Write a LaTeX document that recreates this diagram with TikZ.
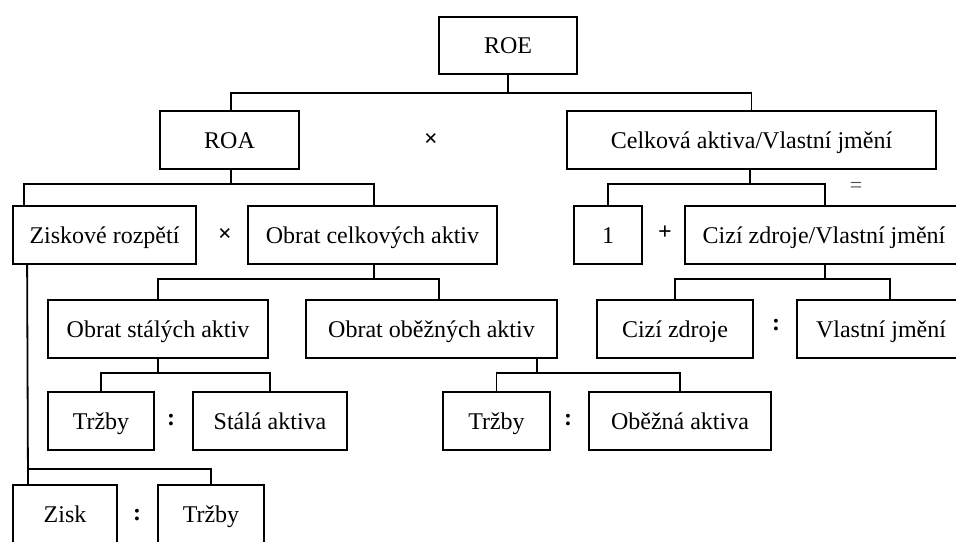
\documentclass[tikz,border=0pt]{standalone}
\usepackage{fontspec}
\setmainfont{Liberation Serif}
\begin{document}
\begin{tikzpicture}[x=1pt,y=-1pt,
  box/.style={draw,line width=1.8pt,minimum height=58pt,inner sep=0pt,text height=20pt,text depth=4pt,font=\fontsize{24}{28}\selectfont},
  sym/.style={font=\fontsize{24}{28}\selectfont\bfseries,inner sep=0pt},
  conn/.style={line width=1.8pt}]
\useasboundingbox (0,0) rectangle (956,541);
\clip (0,0) rectangle (956,541);
% boxes
\node[box,minimum width=138pt,minimum height=57pt] (roe) at (508,45.5) {ROE};
\node[box,minimum width=139pt] (roa) at (229.5,140) {ROA};
\node[box,minimum width=369pt] (celk) at (751.5,140) {Celková aktiva/Vlastní jmění};
\node[box,minimum width=183pt] (zr) at (104.5,235) {Ziskové rozpětí};
\node[box,minimum width=249pt] (oca) at (372.5,235) {Obrat celkových aktiv};
\node[box,minimum width=68pt] (one) at (608,235) {1};
\node[box,minimum width=278pt] (czvj) at (824,235) {Cizí zdroje/Vlastní jmění};
\node[box,minimum width=220pt] (osa) at (158,329) {Obrat stálých aktiv};
\node[box,minimum width=251pt] (ooa) at (431.5,329) {Obrat oběžných aktiv};
\node[box,minimum width=156pt] (cz) at (675,329) {Cizí zdroje};
\node[box,minimum width=168pt] (vj) at (881,329) {Vlastní jmění};
\node[box,minimum width=106pt] (tr1) at (101,421) {Tržby};
\node[box,minimum width=154pt] (sa) at (270,421) {Stálá aktiva};
\node[box,minimum width=107pt] (tr2) at (496.5,421) {Tržby};
\node[box,minimum width=182pt] (oa) at (680,421) {Oběžná aktiva};
\node[box,minimum width=104pt] (zisk) at (65,514) {Zisk};
\node[box,minimum width=106pt] (tr3) at (211,514) {Tržby};
% operators
\node[sym] (x1) at (431,140) {×};
\node[sym] (x2) at (225,235) {×};
\node[sym,font=\fontsize{22}{26}\selectfont,text=black!70] (eq) at (856,187) {=};
\node[sym] (pl) at (665,233) {+};
\node[sym] (c1) at (776,325) {:};
\node[sym] (c2) at (568,420) {:};
\node[sym] (c3) at (171,420) {:};
\node[sym] (c4) at (137,515) {:};
% bus coordinates
\coordinate (b1) at (0,93);
\coordinate (b2) at (0,184);
\coordinate (b3) at (0,279);
\coordinate (b4) at (0,373);
\coordinate (b5) at (0,469);
% connectors
\draw[conn] (roe.south) -- (roe.south |- b1);
\draw[conn] ([xshift=1.5pt]roa.north) |- (b1 -| celk.north) -- (celk.north);
\draw[conn] ([xshift=1.5pt]roa.south) -- ([xshift=1.5pt]roa.south |- b2);
\draw[conn] ([xshift=12pt]zr.north west) |- ([xshift=1.5pt]b2 -| oca.north) -- ([xshift=1.5pt]oca.north);
\draw[conn] ([xshift=-1.5pt]celk.south) -- ([xshift=-1.5pt]celk.south |- b2);
\draw[conn] (one.north) |- ([xshift=1pt]b2 -| czvj.north) -- ([xshift=1pt]czvj.north);
\draw[conn] ([xshift=1.5pt]oca.south) -- ([xshift=1.5pt]oca.south |- b3);
\draw[conn] (osa.north) |- ([xshift=7.5pt]b3 -| ooa.north) -- ([xshift=7.5pt]ooa.north);
\draw[conn] ([xshift=1pt]czvj.south) -- ([xshift=1pt]czvj.south |- b3);
\draw[conn] (cz.north) |- ([xshift=9pt]b3 -| vj.north) -- ([xshift=9pt]vj.north);
\draw[conn] (osa.south) -- (osa.south |- b4);
\draw[conn] (tr1.north) |- (b4 -| sa.north) -- (sa.north);
\draw[conn] ([xshift=105.5pt]ooa.south) -- ([xshift=105.5pt]ooa.south |- b4);
\draw[conn] (tr2.north) |- (b4 -| oa.north) -- (oa.north);
\draw[conn] ([xshift=15pt]zr.south west) -- ([xshift=-37pt]zisk.north) |- (b5 -| tr3.north) -- (tr3.north);
\end{tikzpicture}
\end{document}
